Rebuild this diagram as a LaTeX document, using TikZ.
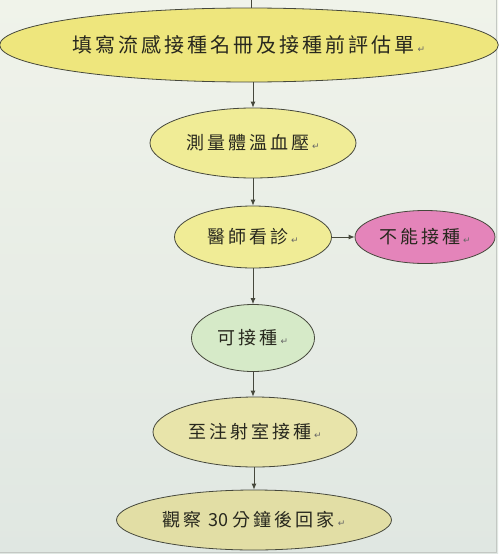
\documentclass[tikz,border=0pt]{standalone}
\usepackage{fontspec}
\newfontfamily\cjk{Noto Sans CJK TC}
\newfontfamily\symf{DejaVu Sans}
\usetikzlibrary{shapes.geometric,arrows.meta}
\definecolor{bgtop}{RGB}{240,243,234}
\definecolor{bgbot}{RGB}{224,231,226}
\definecolor{framec}{RGB}{196,200,196}
\definecolor{linec}{RGB}{70,72,60}
\definecolor{txtc}{RGB}{40,40,30}
\definecolor{yel1}{RGB}{238,230,125}
\definecolor{yel2}{RGB}{240,236,150}
\definecolor{pinkc}{RGB}{228,132,186}
\definecolor{greenc}{RGB}{214,234,200}
\definecolor{khaki1}{RGB}{232,228,170}
\definecolor{khaki2}{RGB}{226,222,165}
\newcommand\spacedtxt[2]{\def\myspc{\hspace{#1}}\spacedloop#2\relax}
\def\spacedloop#1{\ifx#1\relax\else#1\myspc\expandafter\spacedloop\fi}
\newcommand\pmark{{\symf\fontsize{9}{9}\selectfont\color{gray!80!black}↵}}
\begin{document}
\begin{tikzpicture}[x=1pt,y=-1pt,
  oval/.style={ellipse,draw=linec,line width=0.8pt,inner sep=0pt,text=txtc,font=\cjk\fontsize{18}{18}\selectfont},
  arr/.style={draw=linec,line width=0.8pt,-{Latex[length=6pt,width=5pt]}}]
\useasboundingbox[top color=bgtop,bottom color=bgbot] (0,0) rectangle (498,554);
\draw[framec,line width=1.5pt] (0,552.5) -- (496.5,552.5) -- (496.5,0);
\node[oval,fill=yel1,minimum width=492,minimum height=74,font=\cjk\fontsize{20}{20}\selectfont] (e1) at (249,45) {\spacedtxt{3pt}{填寫流感接種名冊及接種前評估單}\pmark};
\node[oval,fill=yel2,minimum width=206,minimum height=70] (e2) at (253,143) {\spacedtxt{3pt}{測量體溫血壓}\pmark};
\node[oval,fill=yel2,minimum width=157,minimum height=62] (e3) at (253,237) {\spacedtxt{3pt}{醫師看診}\pmark};
\node[oval,fill=pinkc,minimum width=140,minimum height=53] (e4) at (425,237) {\spacedtxt{3pt}{不能接種}\pmark};
\node[oval,fill=greenc,minimum width=123,minimum height=67] (e5) at (253,338) {\spacedtxt{3pt}{可接種}\pmark};
\node[oval,fill=khaki1,minimum width=204,minimum height=70] (e6) at (255,432) {\spacedtxt{3pt}{至注射室接種}\pmark};
\node[oval,fill=khaki2,minimum width=275,minimum height=60] (e7) at (254,520) {\spacedtxt{3pt}{觀察}\ 30\ \spacedtxt{3pt}{分鐘後回家}\pmark};
\coordinate (top) at (251,0);
\draw[draw=linec,line width=0.8pt] (top) -- (e1.north -| top);
\draw[arr] (e1.south -| e2.north) -- (e2.north);
\draw[arr] (e2) -- (e3);
\draw[arr] (e3) -- (e4);
\draw[arr] (e3) -- (e5);
\draw[arr] (e5.south) -- (e6.north -| e5.south);
\draw[arr] (e6.south -| e7.north) -- (e7.north);
\end{tikzpicture}
\end{document}
